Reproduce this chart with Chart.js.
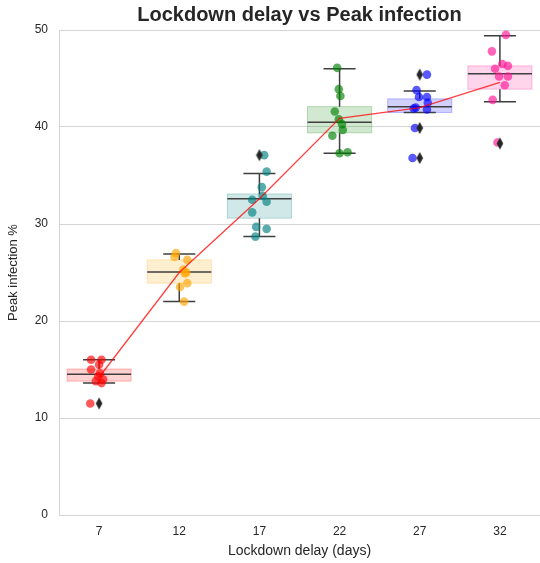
<!DOCTYPE html>
<html>
<head>
<meta charset="utf-8">
<script src="https://cdn.jsdelivr.net/npm/chart.js@4"></script>
<style>
html,body{margin:0;padding:0;background:#fff;}
canvas{display:block;}
</style>
</head>
<body>
<canvas id="c" width="540" height="563"></canvas>
<script>
// ---- data ----
const categories = ['7', '12', '17', '22', '27', '32'];

// strip-plot values per category
const pts7  = [16.0, 16.0, 15.5, 15.0, 14.6, 14.3, 14.0, 13.8, 13.6, 11.5];
const pts12 = [27.0, 26.6, 26.3, 25.3, 25.0, 24.9, 23.9, 23.5, 22.0];
const pts17 = [37.1, 35.4, 33.8, 32.9, 32.5, 32.3, 31.2, 29.7, 29.5, 28.7];
const pts22 = [46.1, 43.9, 43.2, 41.6, 40.8, 40.3, 39.7, 39.1, 37.3, 37.4];
const pts27 = [45.4, 43.8, 43.1, 43.1, 42.5, 42.0, 41.9, 41.8, 39.9, 36.8];
const pts32 = [49.5, 47.8, 46.5, 46.3, 46.0, 45.2, 45.2, 44.3, 42.8, 38.4];

// horizontal jitter (category units)
const jit7  = [-0.10, 0.03, 0.00, -0.10, 0.01, -0.01, 0.05, -0.04, 0.03, -0.11];
const jit12 = [-0.04, -0.06, 0.10, 0.05, 0.09, 0.07, 0.10, 0.01, 0.06];
const jit17 = [0.06, 0.09, 0.03, 0.04, -0.09, 0.09, -0.09, -0.04, 0.09, -0.05];
const jit22 = [-0.03, -0.01, 0.01, -0.06, -0.01, 0.03, 0.04, -0.09, 0.00, 0.10];
const jit27 = [0.09, -0.04, -0.01, 0.09, 0.10, -0.05, -0.075, 0.09, -0.06, -0.09];
const jit32 = [0.075, -0.10, 0.03, 0.10, -0.06, -0.01, 0.10, 0.06, -0.09, -0.03];

// box statistics
const whiskerLow  = [13.6, 22.0, 28.7, 37.3, 41.5, 42.6];
const q1          = [13.8, 23.9, 30.6, 39.4, 41.5, 43.9];
const median      = [14.5, 25.05, 32.6, 40.5, 42.1, 45.5];
const q3          = [15.05, 26.3, 33.1, 42.1, 42.9, 46.3];
const whiskerHigh = [16.0, 26.9, 35.2, 46.0, 43.7, 49.4];

// outliers (category index, value)
const outlierCat = [0, 2, 4, 4, 4, 5];
const outlierVal = [11.5, 37.1, 45.4, 39.9, 36.8, 38.3];

// red trend line
const trendVals = [14.2, 25.0, 32.6, 40.9, 42.0, 44.6];

const yTicks = [0, 10, 20, 30, 40, 50];

// ---- styles ----
const rgbs = [[255,0,0],[255,165,0],[0,128,128],[0,128,0],[0,0,255],[255,20,147]];
const rgba = (c, a) => `rgba(${c[0]},${c[1]},${c[2]},${a})`;
const allPts = [pts7, pts12, pts17, pts22, pts27, pts32];
const allJit = [jit7, jit12, jit17, jit22, jit27, jit32];

// diamond marker
const dia = document.createElement('canvas');
dia.width = 8; dia.height = 14;
{
  const g = dia.getContext('2d');
  g.fillStyle = '#262626';
  g.beginPath();
  g.moveTo(4, 1); g.lineTo(7.3, 7); g.lineTo(4, 13); g.lineTo(0.7, 7); g.closePath();
  g.fill();
}

const boxPlugin = {
  id: 'boxes',
  beforeDatasetsDraw(chart) {
    const {ctx, scales: {x, y}} = chart;
    ctx.save();
    categories.forEach((c, i) => {
      const xl = x.getPixelForValue(i - 0.4), xr = x.getPixelForValue(i + 0.4);
      const xc = x.getPixelForValue(i);
      const cl = x.getPixelForValue(i - 0.2), cr = x.getPixelForValue(i + 0.2);
      const y1 = y.getPixelForValue(q1[i]), y3 = y.getPixelForValue(q3[i]);
      const ym = y.getPixelForValue(median[i]);
      const ylo = y.getPixelForValue(whiskerLow[i]), yhi = y.getPixelForValue(whiskerHigh[i]);
      ctx.fillStyle = rgba(rgbs[i], 0.18);
      ctx.fillRect(xl, y3, xr - xl, y1 - y3);
      ctx.strokeStyle = rgba(rgbs[i], 0.25);
      ctx.lineWidth = 1;
      ctx.strokeRect(xl, y3, xr - xl, y1 - y3);
      ctx.strokeStyle = '#3f3f3f';
      ctx.lineWidth = 1.5;
      ctx.beginPath();
      ctx.moveTo(xc, y3); ctx.lineTo(xc, yhi);
      ctx.moveTo(xc, y1); ctx.lineTo(xc, ylo);
      ctx.moveTo(cl, yhi); ctx.lineTo(cr, yhi);
      ctx.moveTo(cl, ylo); ctx.lineTo(cr, ylo);
      ctx.moveTo(xl, ym); ctx.lineTo(xr, ym);
      ctx.stroke();
    });
    ctx.restore();
  }
};

const datasets = [];
datasets.push({
  type: 'line',
  data: trendVals.map((v, i) => ({x: i, y: v})),
  borderColor: 'rgba(255,0,0,0.75)',
  borderWidth: 1.3,
  pointRadius: 0,
  fill: false,
  order: 0
});
datasets.push({
  type: 'scatter',
  data: outlierVal.map((v, k) => ({x: outlierCat[k], y: v})),
  pointStyle: dia,
  pointRadius: 5,
  order: 1
});
allPts.forEach((arr, i) => {
  datasets.push({
    type: 'scatter',
    data: arr.map((v, k) => ({x: i + allJit[i][k], y: v})),
    backgroundColor: rgba(rgbs[i], 0.65),
    borderWidth: 0,
    pointRadius: 4.3,
    order: 2 + i
  });
});

const FONT = "'Liberation Sans', Arial, sans-serif";
const TXT = '#262626';

new Chart(document.getElementById('c'), {
  data: {datasets},
  plugins: [boxPlugin],
  options: {
    responsive: false,
    animation: false,
    devicePixelRatio: 1,
    layout: {padding: {left: 0, right: 0, top: 0, bottom: 0}, autoPadding: false},
    plugins: {
      legend: {display: false},
      tooltip: {enabled: false},
      title: {
        display: true,
        fullSize: false,
        text: 'Lockdown delay vs Peak infection',
        color: TXT,
        font: {family: FONT, size: 20, weight: 'bold'},
        padding: {top: 3, bottom: 3}
      }
    },
    scales: {
      x: {
        type: 'linear',
        min: -0.5, max: 5.5,
        afterBuildTicks: s => { s.ticks = categories.map((c, i) => ({value: i})); },
        afterFit: s => { s.height = 48; s.paddingLeft = 0; s.paddingRight = 0; },
        ticks: {
          callback: v => categories[v],
          color: TXT,
          font: {family: FONT, size: 12},
          padding: 9,
          maxRotation: 0
        },
        grid: {display: false, drawTicks: false},
        border: {display: true, color: '#d4d4d4', width: 1},
        title: {
          display: true,
          text: 'Lockdown delay (days)',
          color: TXT,
          font: {family: FONT, size: 14},
          padding: {top: 0, bottom: 3.6}
        }
      },
      y: {
        type: 'linear',
        min: 0, max: 50,
        afterBuildTicks: s => { s.ticks = yTicks.map(v => ({value: v})); },
        afterFit: s => { s.width = 59; s.paddingTop = 0; s.paddingBottom = 0; },
        ticks: {
          color: TXT,
          font: {family: FONT, size: 12},
          padding: 11
        },
        grid: {color: '#d4d4d4', lineWidth: 1, drawTicks: false},
        border: {display: true, color: '#d4d4d4', width: 1},
        title: {
          display: true,
          text: 'Peak infection %',
          color: TXT,
          font: {family: FONT, size: 13},
          padding: {top: 6, bottom: 0}
        }
      }
    }
  }
});
</script>
</body>
</html>
